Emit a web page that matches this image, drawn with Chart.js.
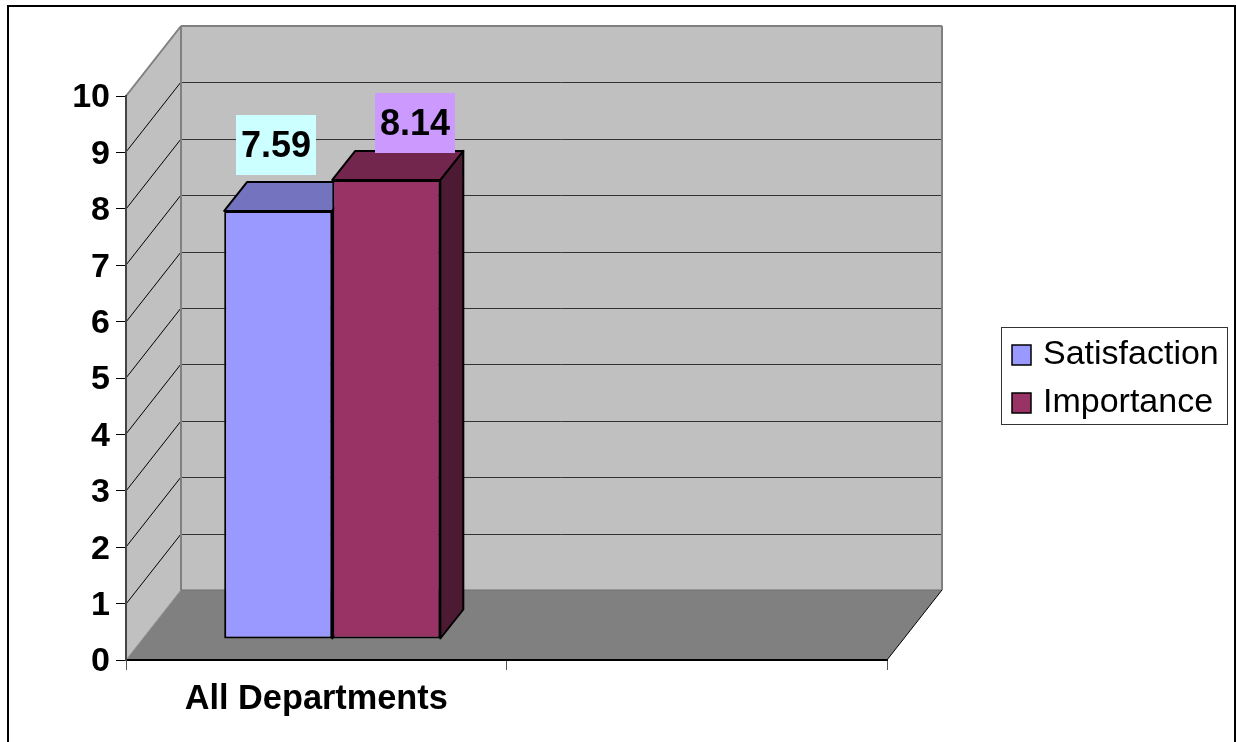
<!DOCTYPE html>
<html><head><meta charset="utf-8">
<style>html,body{margin:0;padding:0;background:#fff;overflow:hidden}canvas{display:block}</style>
<script src="https://cdn.jsdelivr.net/npm/chart.js@4"></script>
</head><body>
<div style="width:1236px;height:742px"><canvas id="c"></canvas></div>
<script>
const categories = ["All Departments", ""];
const satisfaction = [7.59, null];
const importance = [8.14, null];
const seriesNames = ["Satisfaction", "Importance"];
const frontColors = ["#9999FF", "#993366"];
const topColors = ["#7373BF", "#73264D"];
const sideColors = ["#4D4D80", "#4D1A33"];
const labelFills = ["#CCFFFF", "#CC99FF"];

const WALL_DX = 55, WALL_DY = -70;   // depth of the 3D box
const BAR_DX = 16, BAR_DY = -21;     // bars stand inside the box
const BAR_DEPTH_X = 23, BAR_DEPTH_Y = -29;
const LABEL_OFFSETS = [[-2, -36], [29, -27]]; // centre x offset, box bottom offset from the bar's top
const FONT = '"Liberation Sans", Arial, sans-serif';

function poly(ctx, pts, fill, stroke, lw) {
  ctx.beginPath();
  pts.forEach((p, i) => i ? ctx.lineTo(p[0], p[1]) : ctx.moveTo(p[0], p[1]));
  ctx.closePath();
  if (fill) { ctx.fillStyle = fill; ctx.fill(); }
  if (stroke) { ctx.strokeStyle = stroke; ctx.lineWidth = lw; ctx.stroke(); }
}
function seg(ctx, x1, y1, x2, y2, color, lw) {
  ctx.beginPath(); ctx.moveTo(x1, y1); ctx.lineTo(x2, y2);
  ctx.strokeStyle = color; ctx.lineWidth = lw; ctx.stroke();
}

const box3d = {
  id: "box3d",
  afterLayout(chart) {
    const lg = chart.legend;
    lg.left = 999; lg.right = 1226; lg.top = 280; lg.bottom = 477;
    lg.width = 227; lg.height = 197;
  },
  beforeDraw(chart) {
    const { ctx, chartArea: a, scales: { y } } = chart;
    const L = a.left, R = a.right, T = y.getPixelForValue(10), B = y.getPixelForValue(0);
    ctx.save();
    ctx.fillStyle = "#000";
    ctx.fillRect(7, 5, 1229, 2);
    ctx.fillRect(7, 5, 2, 737);
    ctx.fillRect(1234, 5, 2, 737);
    // walls
    poly(ctx, [[L + WALL_DX, T + WALL_DY], [R + WALL_DX, T + WALL_DY], [R + WALL_DX, B + WALL_DY], [L + WALL_DX, B + WALL_DY]], "#C0C0C0");
    poly(ctx, [[L, T], [L + WALL_DX, T + WALL_DY], [L + WALL_DX, B + WALL_DY], [L, B]], "#C0C0C0");
    poly(ctx, [[L, B], [R, B], [R + WALL_DX, B + WALL_DY], [L + WALL_DX, B + WALL_DY]], "#808080");
    // gridlines
    for (let v = 1; v < 10; v++) {
      const p = Math.round(y.getPixelForValue(v));
      seg(ctx, L, p, L + WALL_DX, p + WALL_DY, "#000", 1);
      seg(ctx, L + WALL_DX, p + WALL_DY + 0.5, R + WALL_DX, p + WALL_DY + 0.5, "#333", 1);
    }
    // wall edges
    seg(ctx, L, T, L + WALL_DX, T + WALL_DY, "#808080", 2);
    seg(ctx, L + WALL_DX, T + WALL_DY, R + WALL_DX, T + WALL_DY, "#808080", 2);
    seg(ctx, R + WALL_DX, T + WALL_DY, R + WALL_DX, B + WALL_DY, "#808080", 2);
    seg(ctx, L + WALL_DX, T + WALL_DY, L + WALL_DX, B + WALL_DY, "#808080", 2);
    seg(ctx, L + WALL_DX, B + WALL_DY, R + WALL_DX, B + WALL_DY, "#707070", 1);
    seg(ctx, L, B, L + WALL_DX, B + WALL_DY, "#909090", 1);
    seg(ctx, R, B, R + WALL_DX, B + WALL_DY, "#000", 1);
    ctx.restore();
  },
  beforeDatasetsDraw(chart) {
    const { ctx } = chart;
    ctx.save();
    ctx.translate(BAR_DX, BAR_DY);
    chart.data.datasets.forEach((ds, i) => {
      const bar = chart.getDatasetMeta(i).data[0];
      const hw = bar.width / 2, l = bar.x - hw, r = bar.x + hw, t = bar.y, b = bar.base;
      ctx.lineJoin = "round";
      poly(ctx, [[r, t], [r + BAR_DEPTH_X, t + BAR_DEPTH_Y], [r + BAR_DEPTH_X, b + BAR_DEPTH_Y], [r, b]], sideColors[i], "#000", 2);
      poly(ctx, [[l, t], [r, t], [r + BAR_DEPTH_X, t + BAR_DEPTH_Y], [l + BAR_DEPTH_X, t + BAR_DEPTH_Y]], topColors[i], "#000", 2);
    });
  },
  afterDatasetsDraw(chart) {
    const { ctx } = chart;
    ctx.restore();
    ctx.save();
    ctx.font = "bold 36px " + FONT;
    ctx.textAlign = "center";
    ctx.textBaseline = "middle";
    chart.data.datasets.forEach((ds, i) => {
      const bar = chart.getDatasetMeta(i).data[0];
      const cx = Math.round(bar.x + BAR_DX + LABEL_OFFSETS[i][0]);
      const bottom = Math.round(bar.y + BAR_DY + LABEL_OFFSETS[i][1]);
      ctx.fillStyle = labelFills[i];
      ctx.fillRect(cx - 40, bottom - 60, 80, 60);
      ctx.fillStyle = "#000";
      ctx.fillText(ds.data[0].toFixed(2), cx, bottom - 28);
    });
    ctx.restore();
  },
  afterDraw(chart) {
    const { ctx } = chart;
    ctx.save();
    ctx.strokeStyle = "#333";
    ctx.lineWidth = 1;
    ctx.strokeRect(1001.5, 327.5, 226, 97);
    [345, 393].forEach((top, i) => {
      const ds = chart.data.datasets[i];
      ctx.fillStyle = ds.backgroundColor;
      ctx.fillRect(1012, top, 19, 20);
      ctx.strokeStyle = "#000";
      ctx.lineWidth = 1.5;
      ctx.strokeRect(1012, top, 19, 20);
    });
    ctx.restore();
  }
};

new Chart(document.getElementById("c"), {
  type: "bar",
  data: {
    labels: categories,
    datasets: [
      { label: seriesNames[0], data: satisfaction, backgroundColor: frontColors[0], borderColor: "#000", borderWidth: 2, borderSkipped: false, clip: false },
      { label: seriesNames[1], data: importance, backgroundColor: frontColors[1], borderColor: "#000", borderWidth: 2, borderSkipped: false, clip: false }
    ]
  },
  options: {
    responsive: true,
    maintainAspectRatio: false,
    animation: false,
    layout: { padding: { left: 0, top: 96, right: 349, bottom: 0 } },
    datasets: { bar: { categoryPercentage: 0.568, barPercentage: 1 } },
    scales: {
      x: {
        grid: { drawOnChartArea: false, tickLength: 10, color: "#555", lineWidth: 1 },
        border: { color: "#000", width: 2 },
        ticks: { autoSkip: false, maxRotation: 0, color: "#000", padding: 9, font: { family: FONT, size: 34.3, weight: "bold" } },
        afterFit(s) { s.height = 82; }
      },
      y: {
        min: 0, max: 10,
        grid: { drawOnChartArea: false, tickLength: 10, color: "#000", lineWidth: 1 },
        border: { color: "#444", width: 2 },
        ticks: { stepSize: 1, color: "#000", padding: 6, labelOffset: 2, font: { family: FONT, size: 34, weight: "bold" } },
        afterFit(s) { s.width = 126; }
      }
    },
    plugins: {
      tooltip: { enabled: false },
      legend: {
        position: "chartArea",
        align: "center",
        labels: {
          boxWidth: 13,
          boxHeight: 20,
          padding: 14,
          color: "#000",
          font: { family: FONT, size: 34 },
          generateLabels(chart) {
            return chart.data.datasets.map((ds, i) => ({
              text: ds.label, fillStyle: "rgba(0,0,0,0)", strokeStyle: "rgba(0,0,0,0)", lineWidth: 0, datasetIndex: i, hidden: false
            }));
          }
        }
      }
    }
  },
  plugins: [box3d]
});
</script>
</body></html>
